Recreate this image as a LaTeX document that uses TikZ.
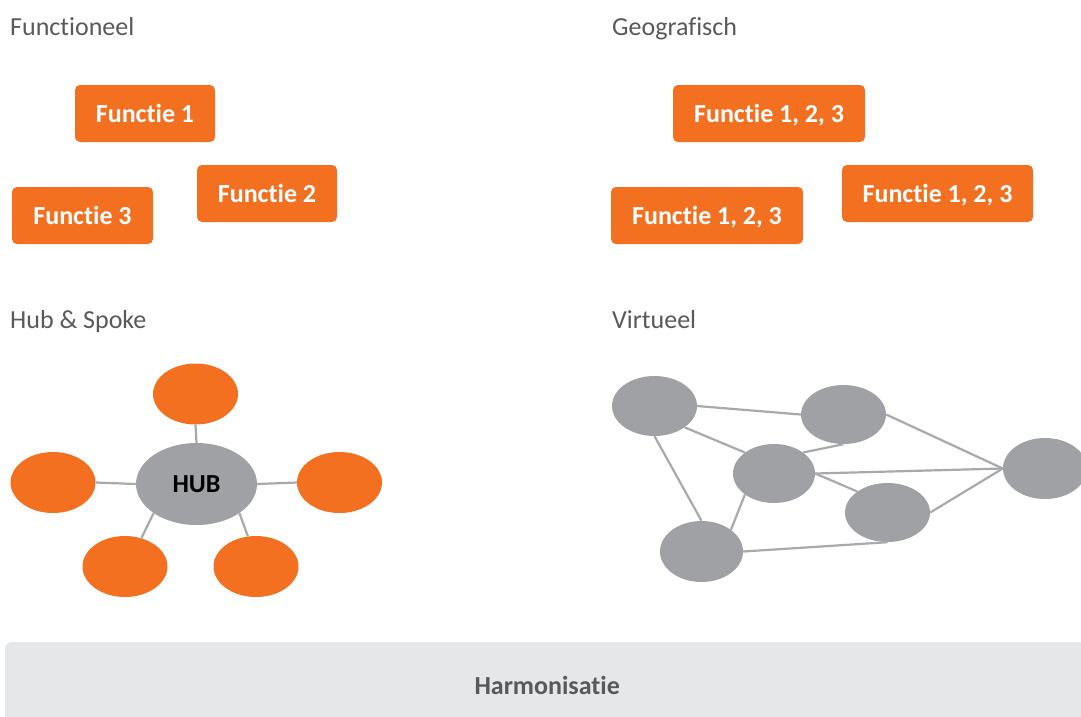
\documentclass[tikz,border=0pt]{standalone}
\usepackage{xcolor}
\usepackage{fontspec}
\setmainfont{Carlito}[Ligatures=NoCommon]
\usepackage{tikz}
\usetikzlibrary{shapes,shapes.geometric}
\tikzset{>=stealth}

\definecolor{ingorange}{HTML}{F37021}
\definecolor{nodegray}{HTML}{A0A1A5}
\definecolor{linegray}{HTML}{A7A9AC}
\definecolor{lblgray}{HTML}{58595B}
\definecolor{barfill}{HTML}{E6E7E8}

\tikzset{
  lbl/.style={anchor=base west, inner sep=0, text=lblgray, font=\fontsize{26}{30}\selectfont},
  funcbox/.style={fill=ingorange, rounded corners=5pt, minimum height=57, inner sep=0,
    text height=17.5pt, text depth=0pt, text=white, font=\bfseries\fontsize{26}{30}\selectfont},
  spoke/.style={ellipse, fill=ingorange, minimum width=85, minimum height=61, inner sep=0},
  hubnode/.style={ellipse, fill=nodegray, minimum width=121, minimum height=82, inner sep=0,
    text=black, font=\bfseries\fontsize{26}{30}\selectfont},
  vnode/.style={ellipse, fill=nodegray, minimum width=84, minimum height=60, inner sep=0},
  link/.style={draw=linegray, line width=2.2pt},
  bar/.style={fill=barfill, rounded corners=6pt, inner sep=0, text=lblgray,
    font=\bfseries\fontsize{26}{30}\selectfont}
}

\begin{document}
\begin{tikzpicture}[x=1pt, y=-1pt]
        \useasboundingbox (0,0) rectangle (1081,716);

        % Titels
        \node[lbl] (tfunc) at (10,35) {Functioneel};
        \node[lbl] (tgeo) at (612,35) {Geografisch};
        \node[lbl] (thub) at (10,328) {Hub \& Spoke};
        \node[lbl] (tvirt) at (612,328) {Virtueel};

        % Functioneel
        \node[funcbox, minimum width=140] (f1) at (145,113.5) {Functie 1};
        \node[funcbox, minimum width=140] (f2) at (267,193.5) {Functie 2};
        \node[funcbox, minimum width=141] (f3) at (82.5,215.5) {Functie 3};

        % Geografisch
        \node[funcbox, minimum width=192] (g1) at (769,113.5) {Functie 1, 2, 3};
        \node[funcbox, minimum width=191] (g2) at (937.5,193.5) {Functie 1, 2, 3};
        \node[funcbox, minimum width=192] (g3) at (707,215.5) {Functie 1, 2, 3};

        % Hub & Spoke
        \node[hubnode] (hub) at (196.5,484) {HUB};
        \node[spoke] (stop) at (195.5,394) {};
        \node[spoke] (sleft) at (53,482.5) {};
        \node[spoke] (sright) at (339.5,482.5) {};
        \node[spoke] (sbl) at (125,566.5) {};
        \node[spoke] (sbr) at (256,566.5) {};
        \draw[link] (hub.north) -- (stop.south);
        \draw[link] (sleft.east) -- (hub.west);
        \draw[link] (hub.east) -- (sright.west);
        \draw[link] (hub.south west) -- (sbl.60);
        \draw[link] (hub.south east) -- (sbr.105);

        % Virtueel
        \node[vnode, minimum width=85] (va) at (654.5,406) {};
        \node[vnode, minimum width=85, minimum height=59] (vb) at (843.5,414.5) {};
        \node[vnode, minimum width=82, minimum height=59] (vc) at (774,473.5) {};
        \node[vnode, minimum width=85, minimum height=59] (vd) at (887.5,512.5) {};
        \node[vnode, minimum height=61] (ve) at (1045,468.5) {};
        \node[vnode, minimum width=83, minimum height=61] (vf) at (701.5,551.5) {};
        \draw[link] (va.east) -- (vb.west);
        \draw[link] (va.south east) -- (vc.north west);
        \draw[link] (va.south) -- (vf.north);
        \draw[link] (vb.south) -- (vc.north east);
        \draw[link] (vb.east) -- (ve.west);
        \draw[link] (vc.east) -- (ve.west);
        \draw[link] (vc.east) -- (vd.north west);
        \draw[link] (vd.east) -- (ve.west);
        \draw[link] (vc.south west) -- (vf.north east);
        \draw[link] (vf.east) -- (vd.south);

        % Harmonisatie
        \node[bar, anchor=north west, minimum width=1084, minimum height=86] (harm) at (5,642) {Harmonisatie};
\end{tikzpicture}
\end{document}
